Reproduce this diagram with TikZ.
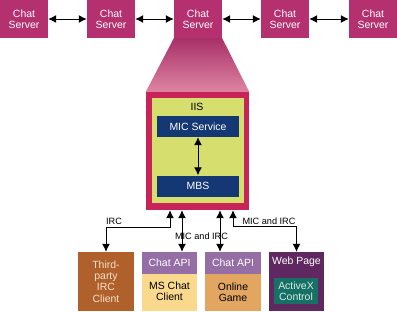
\documentclass[tikz,border=0pt]{standalone}
\usepackage{fontspec}
\setmainfont{Liberation Sans}
\usetikzlibrary{arrows.meta}

\definecolor{serverred}{RGB}{180,48,110}
\definecolor{iisborder}{RGB}{200,36,88}
\definecolor{iisfill}{RGB}{214,222,110}
\definecolor{svcblue}{RGB}{20,56,116}
\definecolor{ircbrown}{RGB}{176,96,42}
\definecolor{apiband}{RGB}{150,110,166}
\definecolor{mschat}{RGB}{250,216,140}
\definecolor{gamecol}{RGB}{226,166,96}
\definecolor{webpurple}{RGB}{96,40,96}
\definecolor{activex}{RGB}{22,112,102}
\definecolor{funneltop}{RGB}{168,48,104}
\definecolor{funnelmid}{RGB}{196,90,140}
\definecolor{funnelbot}{RGB}{222,132,162}
\definecolor{irctext}{RGB}{245,225,205}
\definecolor{axtext}{RGB}{215,235,225}

\newcommand{\boxfont}{\fontsize{10.5}{11.5}\selectfont}
\newcommand{\labelfont}{\fontsize{9.2}{11}\selectfont}

\begin{document}
\begin{tikzpicture}[x=1bp,y=-1bp,
  block/.style={rectangle, inner sep=0pt, draw=none, font=\boxfont, align=center},
  server/.style={block, fill=serverred, text=white, minimum width=48bp, minimum height=38bp},
  service/.style={block, fill=svcblue, text=white, minimum width=82bp, minimum height=21bp},
  client/.style={block, minimum width=55bp, minimum height=59bp},
  band/.style={block, fill=apiband, text=white, minimum width=55bp, minimum height=22bp, anchor=north},
  conn/.style={{Latex[length=8bp,width=8bp]}-{Latex[length=8bp,width=8bp]}, line width=1bp, black},
  lbl/.style={font=\labelfont, inner sep=0pt, text=black}]

\useasboundingbox (0,0) rectangle (397,312);

% chat server row
\node[server] (s1) at (24,19) {Chat\\Server};
\node[server] (s2) at (111,19) {Chat\\Server};
\node[server] (s3) at (198,19) {Chat\\Server};
\node[server] (s4) at (285,19) {Chat\\Server};
\node[server] (s5) at (373,19) {Chat\\Server};

\draw[conn] (s1.east) -- (s2.west);
\draw[conn] (s2.east) -- (s3.west);
\draw[conn] (s3.east) -- (s4.west);
\draw[conn] (s4.east) -- (s5.west);

% IIS host
\node[block, fill=iisborder, minimum width=103bp, minimum height=118bp] (iis) at (197.5,151) {};
\node[block, fill=iisfill, minimum width=92bp, minimum height=105bp] (iisin) at (198,150.5) {};
\node[block, text=black] (iislbl) at (197,107) {IIS};

% funnel from the server down to IIS
\shade[top color=funneltop, middle color=funnelmid, bottom color=funnelbot]
  (s3.south west) -- (s3.south east) -- (iis.north east) -- (iis.north west) -- cycle;

\node[service] (mic) at (198,126.5) {MIC Service};
\node[service] (mbs) at (198,186) {MBS};
\draw[conn] (mic.south) -- (mbs.north);

% clients
\node[client, fill=ircbrown, text=irctext] (irc) at (106,281.5) {Third-\\party\\IRC\\Client};

\node[client, fill=mschat] (ms) at (169.5,281.5) {};
\node[band] (msapi) at (ms.north) {Chat API};
\node[block, text=black] (mstxt) at (169.5,291) {MS Chat\\Client};

\node[client, fill=gamecol] (game) at (233,281.5) {};
\node[band] (gameapi) at (game.north) {Chat API};
\node[block, text=black] (gametxt) at (233,292) {Online\\Game};

\node[client, fill=webpurple] (web) at (296.5,281.5) {};
\node[block, text=white] (webtxt) at (296.5,262) {Web Page};
\node[block, fill=activex, text=axtext, minimum width=44bp, minimum height=26bp] (ax) at (296,291) {ActiveX\\Control};

% connections to clients
\coordinate (p1) at (170,227);
\coordinate (p2) at (182,0);
\coordinate (p3) at (220,0);
\coordinate (p4) at (233,226);

\draw[conn] (iis.south -| p1) -- (p1) -| (irc.north);
\draw[conn] (iis.south -| p2) -- (ms.north -| p2);
\draw[conn] (iis.south -| p3) -- (game.north -| p3);
\draw[conn] (iis.south -| p4) -- (p4) -| (web.north);

\node[lbl] (lirc) at (114,221) {IRC};
\node[lbl] (lmic1) at (201.5,236) {MIC and IRC};
\node[lbl] (lmic2) at (269,221) {MIC and IRC};

\end{tikzpicture}
\end{document}
